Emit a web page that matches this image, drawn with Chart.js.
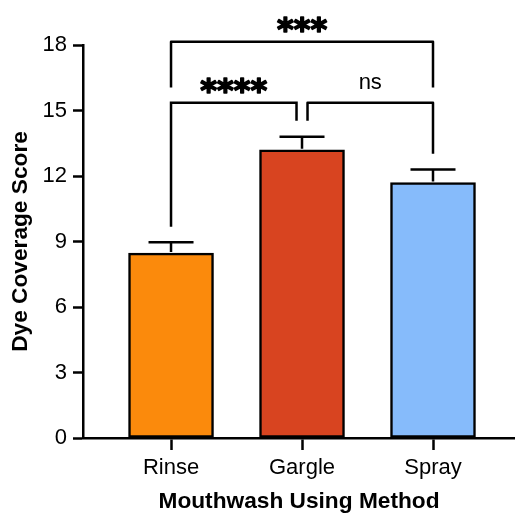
<!DOCTYPE html>
<html>
<head>
<meta charset="utf-8">
<script src="https://cdn.jsdelivr.net/npm/chart.js@4/dist/chart.umd.min.js"></script>
<style>body{margin:0;background:#fff}</style>
</head>
<body>
<canvas id="myChart" width="515" height="513"></canvas>
<script>
const methods = ['Rinse', 'Gargle', 'Spray'];
const meanScores = [8.47, 13.2, 11.7];
const semScores = [0.5, 0.6, 0.6];
const yTicks = [0, 3, 6, 9, 12, 15, 18];
const barColors = ['#fb8a0c', '#d84420', '#86bbfb'];
// pairwise comparisons (group index from / to) and their labels
const compFrom = [0, 0, 1];
const compTo = [1, 2, 2];
const compLabels = ['****', '***', 'ns'];

// bracket geometry in y units, leg x nudges in px
const brackets = [
  { line: 15.36, leg1: 9.68, leg2: 14.53, dx1: 0, dx2: -5.5, font: 'bold 32px "DejaVu Sans"', gap: 2, heavy: true },
  { line: 18.15, leg1: 16.05, leg2: 16.05, dx1: 0, dx2: 0, font: 'bold 32px "DejaVu Sans"', gap: 2, heavy: true },
  { line: 15.36, leg1: 14.53, leg2: 13.02, dx1: 5.5, dx2: 0, font: '22px "Liberation Sans", Arial', gap: 14, heavy: false }
];

const sigPlugin = {
  id: 'sig',
  afterDatasetsDraw(chart) {
    const { ctx, scales: { x, y } } = chart;
    ctx.save();
    ctx.strokeStyle = '#000';
    ctx.fillStyle = '#000';
    ctx.lineWidth = 2.5;
    // error bars (upper half only)
    meanScores.forEach((m, i) => {
      const px = x.getPixelForValue(i + 1);
      const base = y.getPixelForValue(m);
      const top = y.getPixelForValue(m + semScores[i]);
      ctx.beginPath();
      ctx.moveTo(px, base - 1);
      ctx.lineTo(px, top);
      ctx.moveTo(px - 22.5, top);
      ctx.lineTo(px + 22.5, top);
      ctx.stroke();
    });
    // significance brackets
    brackets.forEach((b, k) => {
      const x1 = x.getPixelForValue(compFrom[k] + 1) + b.dx1;
      const x2 = x.getPixelForValue(compTo[k] + 1) + b.dx2;
      const yl = y.getPixelForValue(b.line);
      ctx.lineWidth = 2.5;
      ctx.beginPath();
      ctx.moveTo(x1, y.getPixelForValue(b.leg1));
      ctx.lineTo(x1, yl);
      ctx.lineTo(x2, yl);
      ctx.lineTo(x2, y.getPixelForValue(b.leg2));
      ctx.stroke();
      ctx.font = b.font;
      ctx.textAlign = 'center';
      ctx.textBaseline = 'alphabetic';
      ctx.fillText(compLabels[k], (x1 + x2) / 2, yl - b.gap);
      if (b.heavy) {
        ctx.lineWidth = 1.6;
        ctx.lineJoin = 'round';
        ctx.strokeText(compLabels[k], (x1 + x2) / 2, yl - b.gap);
      }
    });
    ctx.restore();
  }
};

const ctx = document.getElementById('myChart').getContext('2d');
new Chart(ctx, {
  type: 'bar',
  data: {
    datasets: [{
      data: meanScores.map((v, i) => ({ x: i + 1, y: v })),
      backgroundColor: barColors,
      borderColor: '#000',
      borderWidth: 2.5,
      borderSkipped: false,
      barThickness: 85
    }]
  },
  options: {
    responsive: false,
    animation: false,
    layout: { padding: { top: 45, right: 0, left: 0, bottom: 0 } },
    plugins: { legend: { display: false }, tooltip: { enabled: false } },
    scales: {
      x: {
        type: 'linear',
        min: 0.328,
        max: 3.626,
        offset: false,
        afterBuildTicks: s => { s.ticks = methods.map((_, i) => ({ value: i + 1 })); },
        afterFit: s => { s.height = 75; },
        border: { color: '#000', width: 2.5 },
        grid: { offset: false, drawOnChartArea: false, color: '#000', tickLength: 12, tickWidth: 2.5 },
        ticks: {
          color: '#000',
          padding: 5,
          font: { family: '"Liberation Sans", Arial', size: 22 },
          callback: v => methods[v - 1]
        },
        title: {
          display: true,
          text: 'Mouthwash Using Method',
          color: '#000',
          padding: { top: 0, bottom: 0 },
          font: { family: '"Liberation Sans", Arial', size: 22.7, weight: 'bold', lineHeight: 1 }
        }
      },
      y: {
        min: 0,
        max: 18,
        afterBuildTicks: s => { s.ticks = yTicks.map(v => ({ value: v })); },
        afterFit: s => { s.width = 83; },
        border: { color: '#000', width: 2.5 },
        grid: { drawOnChartArea: false, color: '#000', tickLength: 10, tickWidth: 2.5 },
        ticks: {
          color: '#000',
          padding: 6,
          font: { family: '"Liberation Sans", Arial', size: 22 }
        },
        title: {
          display: true,
          text: 'Dye Coverage Score',
          color: '#000',
          padding: { top: 9, bottom: 0 },
          font: { family: '"Liberation Sans", Arial', size: 22.7, weight: 'bold', lineHeight: 1 }
        }
      }
    }
  },
  plugins: [sigPlugin]
});
</script>
</body>
</html>
